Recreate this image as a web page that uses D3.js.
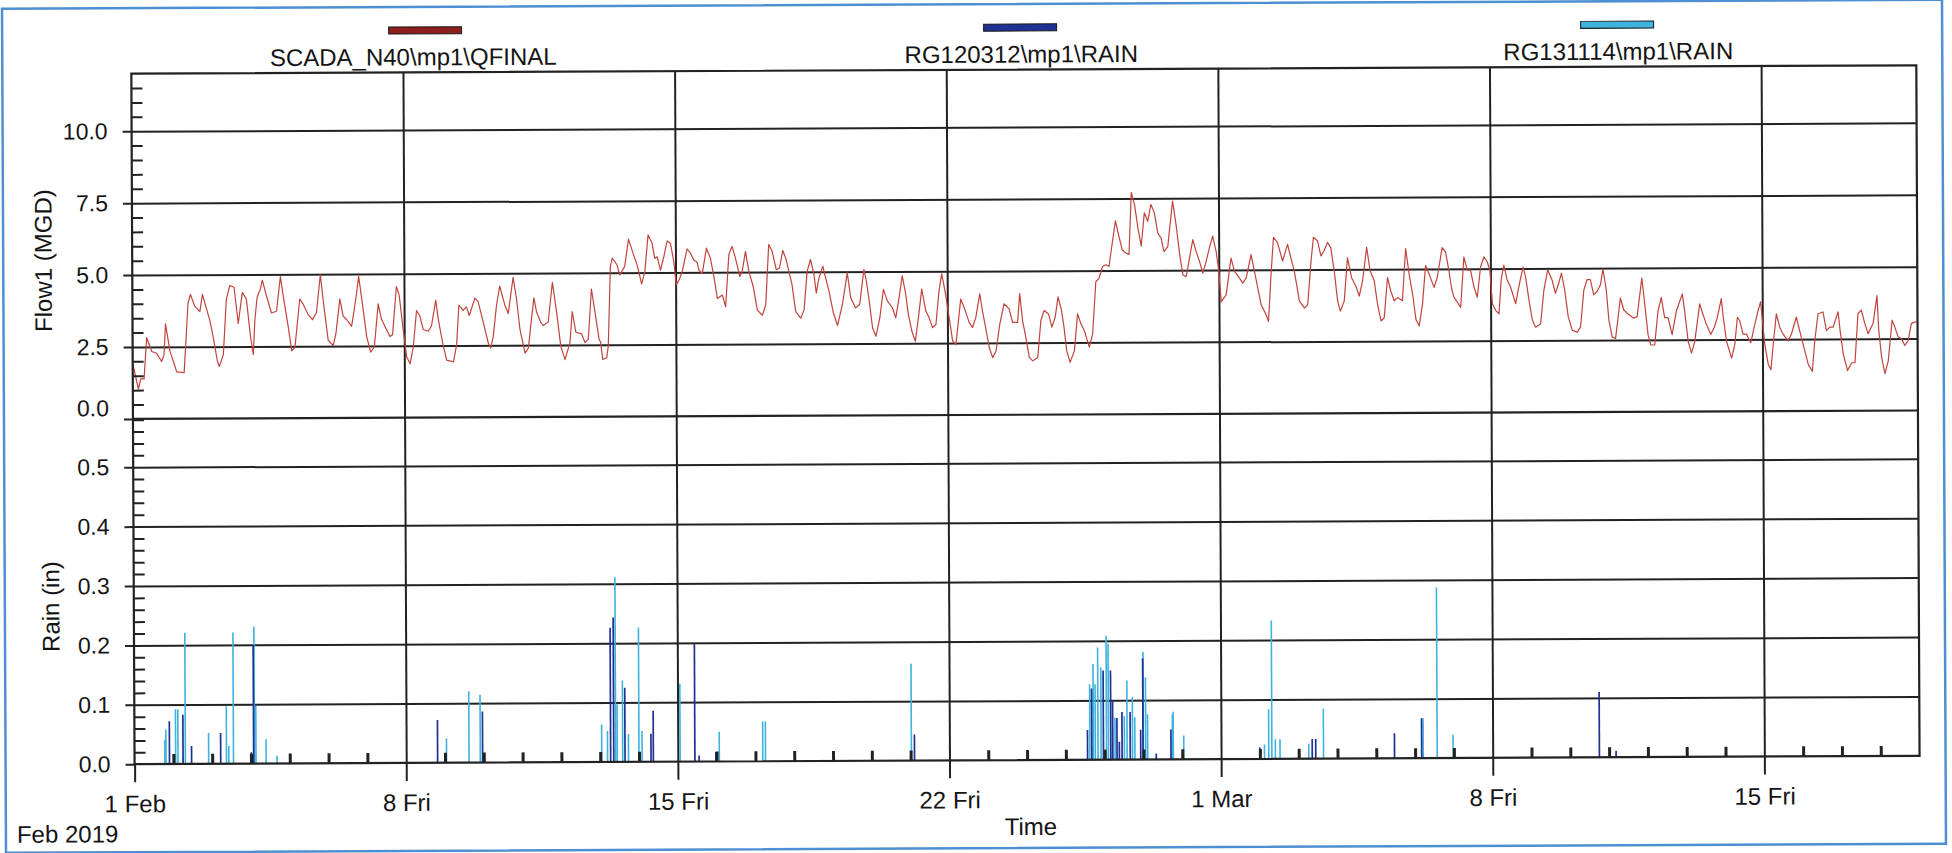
<!DOCTYPE html>
<html>
<head>
<meta charset="utf-8">
<script src="https://cdn.jsdelivr.net/npm/d3@7"></script>
<style>
  html, body { margin: 0; padding: 0; background: #ffffff; }
  svg { display: block; }
  text { font-family: "Liberation Sans", Arial, sans-serif; fill: #141414; }
</style>
</head>
<body>
<svg id="chart" width="1952" height="853"></svg>
<script>
// ---- series names and colours ----
const seriesNames = ["SCADA_N40\\mp1\\QFINAL", "RG120312\\mp1\\RAIN", "RG131114\\mp1\\RAIN"];
const seriesColors = ["#8e1d1d", "#1f3193", "#3db3de"];
const flowLineColor = "#c0443e";

// ---- axis ticks ----
const xTickDays = [0, 7, 14, 21, 28, 35, 42];
const xTickLabels = ["1 Feb", "8 Fri", "15 Fri", "22 Fri", "1 Mar", "8 Fri", "15 Fri"];
const flowTicks = [0, 2.5, 5, 7.5, 10];
const flowTickLabels = ["0.0", "2.5", "5.0", "7.5", "10.0"];
const rainTicks = [0, 0.1, 0.2, 0.3, 0.4, 0.5];
const rainTickLabels = ["0.0", "0.1", "0.2", "0.3", "0.4", "0.5"];

// ---- flow, [hours since 1 Feb 2019 00:00, MGD] ----
const flowSamples = [
[0,1.93],[3.5,1.03],[4.9,1.39],[7.0,1.39],[8.7,2.82],[11.8,2.34],[14.8,2.28],[17.9,1.99],[19.4,2.22],[20.4,3.30],
[23.1,2.34],[25.2,1.99],[27.2,1.63],[31.8,1.60],[34.4,4.02],[35.9,4.32],[38.6,3.90],[41.7,3.72],[43.3,4.32],[45.4,3.90],
[47.8,3.42],[49.9,2.82],[52.4,1.99],[53.6,1.81],[56.1,2.22],[58.1,4.14],[60.2,4.62],[62.9,4.56],[65.4,3.30],[68.0,4.38],
[70.5,4.14],[73.0,2.82],[74.6,2.22],[75.7,3.42],[77.1,4.20],[79.2,4.50],[80.4,4.80],[82.9,4.26],[86.0,3.66],[89.1,3.72],
[91.6,4.92],[93.6,4.14],[96.3,3.18],[98.4,2.34],[100.4,2.46],[103.5,4.14],[105.6,3.96],[108.7,3.60],[111.3,3.42],[113.8,3.66],
[116.3,4.98],[118.4,3.90],[121.0,2.70],[124.1,2.52],[125.8,2.94],[128.3,4.14],[130.3,3.54],[132.4,3.42],[135.5,3.18],[138.2,4.14],
[140.0,4.92],[142.1,4.02],[144.8,2.82],[147.2,2.28],[149.5,2.46],[152.0,3.96],[154.0,3.42],[156.1,3.18],[159.2,2.82],[160.8,2.88],
[163.3,4.56],[165.0,4.26],[167.4,3.06],[169.5,2.11],[171.6,1.87],[173.6,2.46],[175.7,3.72],[177.7,3.54],[179.8,3.06],[182.9,3.00],
[184.9,3.18],[187.6,4.08],[189.1,3.42],[191.8,2.58],[194.2,1.99],[198.4,1.93],[200.4,2.52],[201.9,3.90],[204.5,3.72],[206.6,3.84],
[208.3,3.54],[211.8,4.14],[213.8,4.02],[215.9,3.54],[220.0,2.58],[221.5,2.40],[223.1,2.82],[225.2,3.90],[227.2,4.56],[230.3,3.90],
[232.4,3.60],[235.5,4.86],[237.5,4.14],[239.6,3.06],[242.7,2.22],[244.8,2.40],[246.8,3.42],[248.3,4.14],[249.9,3.66],[252.4,3.30],
[254.0,3.18],[257.1,3.30],[259.8,4.68],[262.3,3.66],[264.8,2.46],[267.4,1.99],[270.5,2.58],[272.0,3.66],[274.2,2.94],[277.7,2.88],
[279.8,2.58],[281.9,2.70],[283.9,4.44],[286.0,3.66],[288.5,2.70],[289.5,2.58],[290.7,1.99],[293.2,2.05],[294.2,2.46],[295.7,5.22],
[296.9,5.51],[299.8,5.28],[301.5,4.92],[304.6,5.22],[307.0,6.17],[309.7,5.69],[312.2,5.28],
[313.3,5.02],[315.0,4.61],[317.0,5.02],[319.1,6.31],[321.6,6.02],[323.2,5.49],[324.7,5.55],[326.7,5.08],[328.8,5.55],[330.9,6.10],
[332.9,6.02],[335.0,5.37],[336.4,4.56],[338.1,4.73],[340.1,5.02],[343.2,5.82],[345.3,5.67],[347.3,5.43],[349.4,5.35],[350.4,5.08],
[352.5,4.96],[355.2,5.84],[357.7,5.47],[359.9,4.79],[361.8,4.09],[364.9,4.21],[366.9,3.80],[369.0,5.61],[371.0,5.90],[373.1,5.49],
[375.8,4.85],[377.2,5.02],[379.3,5.72],[381.4,5.02],[384.0,4.50],[386.5,3.68],[389.6,3.50],[391.7,3.86],[393.7,5.96],[395.8,5.72],
[398.3,5.08],[400.3,5.14],[402.4,5.75],[404.5,5.43],[406.1,5.02],[408.0,4.56],[410.2,3.62],[413.3,3.39],[415.4,3.68],[417.4,5.02],
[419.5,5.43],[421.6,4.91],[423.0,4.26],[424.7,4.79],[427.1,5.20],[428.8,4.79],[430.9,4.32],[433.3,3.62],[436.0,3.13],[439.1,3.86],
[442.2,4.96],[444.3,4.09],[447.3,3.74],[449.8,3.86],[452.5,5.08],[454.0,4.67],[456.0,3.86],[457.7,3.04],[459.8,2.75],[462.2,3.39],
[464.5,4.38],[467.0,3.97],[470.0,3.74],[472.1,3.39],[474.2,4.09],[476.2,4.85],[478.3,4.21],[479.9,3.50],[482.0,2.92],[484.1,2.57],
[486.1,3.39],[488.2,4.38],[490.7,3.62],[492.7,3.39],[494.8,3.04],[496.9,3.15],[498.9,4.32],[500.6,4.91],[502.6,4.32],[505.1,3.39],
[507.2,2.57],[509.2,2.45],[512.3,4.03],[514.4,3.74],[517.5,3.21],[519.5,3.04],[521.6,3.39],[524.1,4.21],[525.7,3.62],[528.0,2.92],
[529.8,2.34],[531.9,1.99],[534.0,2.22],[536.4,3.15],[539.1,3.86],[542.2,3.68],[544.3,3.21],[547.4,3.21],[548.8,4.21],[550.5,3.27],
[552.1,2.80],[554.6,1.99],[556.7,1.87],[559.8,1.99],[561.8,3.27],[563.9,3.62],[566.6,3.50],[568.6,3.04],[570.7,3.39],[572.5,4.09],
[574.6,3.62],[576.1,3.04],[577.7,2.22],[579.8,1.81],[582.5,2.22],[584.5,3.50],[586.6,3.15],[588.6,2.92],[591.7,2.34],[593.8,2.80],
[595.9,4.61],[597.9,4.73],[600.1,5.14],[602.0,5.20],[604.1,5.14],[606.2,5.96],[608.2,6.72],[610.3,6.19],[612.3,5.72],[614.4,5.61],
[616.5,5.55],[618.1,7.71],[620.2,7.24],[622.2,6.43],[624.1,5.84],
[626.1,7.0],[628.2,6.70],[630.2,7.29],[632.3,7.0],[634.4,6.29],[636.4,6.12],[638.1,5.65],[640.5,5.82],[643.6,7.40],[645.7,6.58],
[647.9,5.53],[649.8,4.83],[651.8,4.77],[653.9,5.41],[656.0,6.06],[658.0,5.65],[660.1,5.30],[662.1,4.89],[664.2,5.30],[666.2,5.76],
[668.3,6.18],[670.4,5.65],[672.0,4.95],[673.4,3.90],[676.5,4.13],[679.6,5.41],[681.7,4.95],[684.8,4.71],[686.8,4.54],[688.9,4.71],
[692.0,5.53],[694.0,4.95],[696.1,4.36],[698.1,3.78],[701.2,3.43],[702.6,3.20],[704.3,4.83],[705.9,6.12],[708.4,5.94],[711.5,5.30],
[714.6,5.88],[716.6,5.41],[718.7,4.95],[720.1,4.48],[721.8,3.90],[724.9,3.66],[726.9,3.78],[729.0,5.24],[730.6,6.12],[733.1,6.0],
[735.2,5.47],[737.2,5.65],[739.3,5.94],[741.3,5.76],[743.4,4.95],[745.4,3.90],[747.1,3.55],[749.5,3.90],[751.6,5.41],[754.1,4.71],
[756.7,4.42],[758.8,4.07],[760.9,4.60],[763.5,5.76],[765.6,4.95],[768.1,4.60],[770.1,3.78],[772.2,3.20],[774.2,3.31],[776.3,4.71],
[778.3,4.24],[780.4,3.90],[782.5,4.01],[785.5,3.90],[787.6,5.71],[789.7,4.83],[792.1,4.01],[793.8,3.25],[795.8,3.02],[797.9,3.78],
[799.9,5.12],[802.0,4.83],[805.1,4.36],[807.1,4.71],[810.2,5.74],[812.3,5.59],[814.3,4.95],[816.0,4.30],[817.4,4.01],[819.5,3.84],
[821.5,3.66],[823.6,5.41],[825.7,4.95],[827.7,4.95],[829.8,4.36],[831.8,4.01],[833.9,5.06],[836.0,5.41],[838.0,5.24],[839.7,4.95],
[841.1,3.78],[843.1,3.55],[845.2,3.43],[846.6,4.60],[848.3,5.12],[850.3,4.60],[852.4,4.36],[855.5,3.78],[857.5,4.36],[860.2,5.06],
[861.7,4.71],[864.1,3.78],[865.8,3.20],[867.8,2.96],[870.9,3.08],[873.0,4.24],[875.4,4.95],[878.1,4.60],[880.1,4.13],[882.2,4.48],
[883.9,4.83],[885.9,4.24],[888.0,3.31],[890.5,2.84],[893.5,2.78],[895.6,2.96],[897.7,4.24],[899.7,4.60],[901.8,4.60],[903.8,4.07],
[905.9,4.19],[908.0,4.42],[909.6,4.97],[911.6,4.24],[913.1,3.20],[915.1,2.61],[917.2,2.55],[920.3,3.96],[922.3,3.55],[924.4,3.43],
[928.5,3.25],[930.6,3.31],[933.6,4.65],[935.7,3.55],
[937.3,2.68],[939.0,2.32],[941.4,2.32],[943.5,3.50],[945.6,3.97],[947.6,3.27],[949.7,3.27],[952.2,2.68],[954.9,3.50],[958.6,4.09],
[960.0,3.50],[962.1,2.44],[964.1,2.03],[966.2,2.44],[969.3,3.74],[971.3,3.38],[973.4,3.03],[976.1,2.68],[978.2,2.91],[980.2,3.27],
[982.7,3.92],[983.9,3.27],[985.8,2.44],[988.9,1.85],[990.9,2.32],[992.6,3.27],[994.0,3.15],[996.1,2.68],[998.2,2.68],[1000.8,2.38],
[1002.9,2.91],[1005.4,3.50],[1007.0,3.80],[1009.5,2.32],[1011.6,1.62],[1013.2,1.44],[1014.7,2.32],[1016.7,3.38],[1018.8,2.91],[1020.8,2.68],
[1023.9,2.44],[1026.0,2.68],[1029.1,3.27],[1031.1,2.79],[1033.2,2.32],[1036.3,1.62],[1038.8,1.38],[1040.4,2.44],[1042.5,3.38],[1045.6,3.44],
[1047.6,2.79],[1049.7,2.91],[1051.8,2.91],[1054.9,3.44],[1056.1,2.79],[1058.0,1.97],[1060.6,1.40],[1063.1,1.67],[1065.2,1.67],[1067.2,3.38],
[1069.3,3.50],[1071.4,3.03],[1073.4,2.68],[1076.5,3.03],[1079.0,4.00],[1080.0,2.79],[1081.7,1.85],[1083.7,1.29],[1085.8,1.73],[1088.3,3.15],
[1089.9,2.91],[1092.0,2.56],[1094.0,2.50],[1096.1,2.26],[1098.2,2.44],[1100.2,3.03],[1103.3,3.09]
];

// ---- rain gauge RG120312, [days since 1 Feb 2019, inches] ----
const rg120312 = [
[0.90,0.072],[1.25,0.083],[1.47,0.030],[2.22,0.052],[3.01,0.019],[3.07,0.200],[7.81,0.072],[8.97,0.086],
[12.27,0.226],[12.35,0.243],[12.64,0.125],[13.31,0.047],[13.37,0.086],[14.44,0.198],[14.55,0.010],[14.98,0.016],
[20.10,0.044],[24.56,0.050],[24.67,0.120],[24.97,0.150],[25.16,0.150],[25.21,0.100],[25.32,0.070],[25.38,0.030],
[25.45,0.080],[25.66,0.080],[25.93,0.050],[25.99,0.170],[26.33,0.010],[26.71,0.050],[29.00,0.019],[30.35,0.033],
[30.44,0.033],[32.47,0.042],[33.17,0.067],[37.75,0.110],[38.02,0.014],[38.18,0.011]
];

// ---- rain gauge RG131114, [days since 1 Feb 2019, inches] ----
const rg131114 = [
[0.78,0.041],[0.81,0.058],[1.06,0.092],[1.12,0.092],[1.31,0.221],[1.91,0.052],[2.37,0.097],[2.43,0.030],
[2.55,0.221],[3.09,0.231],[3.13,0.097],[3.39,0.041],[3.67,0.013],[8.04,0.041],[8.62,0.120],[8.91,0.114],
[12.04,0.063],[12.19,0.052],[12.40,0.311],[12.44,0.097],[12.58,0.137],[12.73,0.047],[13.00,0.226],[13.08,0.052],
[14.06,0.131],[15.07,0.050],[16.19,0.067],[16.26,0.067],[20.02,0.163],[24.62,0.127],[24.71,0.161],[24.76,0.127],
[24.83,0.189],[24.91,0.155],[25.05,0.209],[25.10,0.195],[25.27,0.071],[25.51,0.073],[25.58,0.133],[25.72,0.105],
[25.78,0.071],[26.00,0.181],[26.06,0.138],[26.11,0.076],[26.75,0.076],[26.77,0.080],[27.04,0.040],[29.12,0.024],
[29.23,0.084],[29.31,0.233],[29.40,0.033],[29.52,0.033],[30.26,0.025],[30.64,0.084],[33.21,0.067],[33.57,0.287],
[33.98,0.039]
];

// ---- layout ----
const W = 1952, H = 853;
const L = 133, R = 1918;          // plot left / right
const T = 69.5;                   // top of flow panel
const MID = 414.7;                // flow 0 / top of rain panel
const B = 760;                    // rain 0 / time axis
const RAIN_HALF = 463;            // y of 0.5 in
const FONT = 24;
const INK = "#222";

const DAY = 86400000, HOUR = 3600000;
const t0 = Date.UTC(2019, 1, 1), t1 = Date.UTC(2019, 2, 19);

const x = d3.scaleUtc().domain([t0, t1]).range([L, R]);
const yFlow = d3.scaleLinear().domain([0, 12]).range([MID, T]);
const rainTop = 0.5 * (B - MID) / (B - RAIN_HALF);
const yRain = d3.scaleLinear().domain([0, rainTop]).range([B, MID]);

const svg = d3.select("#chart");
svg.append("rect").attr("width", W).attr("height", H).attr("fill", "#fff");

// whole sheet sits very slightly tilted
const g = svg.append("g").attr("transform", "rotate(-0.27 1025 426)");

// outer window border
g.append("rect").attr("x", 4).attr("y", 4).attr("width", 1940).attr("height", 844)
  .attr("fill", "none").attr("stroke", "#4d8fd2").attr("stroke-width", 2.5);

function styleAxis(sel, width) {
  sel.select(".domain").remove();
  sel.selectAll(".tick line").attr("stroke", INK).attr("stroke-width", width);
}

// horizontal grid lines (flow + rain)
const gridFlow = g.append("g").attr("transform", `translate(${L},0)`)
  .call(d3.axisLeft(yFlow).tickValues(flowTicks.filter(v => v > 0)).tickSize(-(R - L)).tickFormat(""));
styleAxis(gridFlow, 2);
const gridRain = g.append("g").attr("transform", `translate(${L},0)`)
  .call(d3.axisLeft(yRain).tickValues(rainTicks.filter(v => v > 0)).tickSize(-(R - L)).tickFormat(""));
styleAxis(gridRain, 2);

// vertical week grid lines
const weekDates = xTickDays.map(d => new Date(t0 + d * DAY));
const gridX = g.append("g").attr("transform", `translate(0,${B})`)
  .call(d3.axisBottom(x).tickValues(weekDates.slice(1)).tickSize(-(B - T)).tickFormat(""));
styleAxis(gridX, 2);

// rain impulses
function rainStems(data, color, width, cls) {
  g.append("g").attr("class", cls).selectAll("line").data(data).join("line")
    .attr("x1", d => x(new Date(t0 + d[0] * DAY)))
    .attr("x2", d => x(new Date(t0 + d[0] * DAY)))
    .attr("y1", yRain(0))
    .attr("y2", d => yRain(d[1]))
    .attr("stroke", color).attr("stroke-width", width);
}
rainStems(rg131114, seriesColors[2], 1.6, "rg131114");
rainStems(rg120312, seriesColors[1], 1.7, "rg120312");

// flow trace
const flowLine = d3.line()
  .x(d => x(new Date(t0 + d[0] * HOUR)))
  .y(d => yFlow(d[1]));
g.append("path").datum(flowSamples)
  .attr("d", flowLine).attr("fill", "none")
  .attr("stroke", flowLineColor).attr("stroke-width", 1.2).attr("stroke-linejoin", "round");

// daily ticks along the time axis
const dayDates = d3.range(1, 46).filter(d => d % 7 !== 0).map(d => new Date(t0 + d * DAY));
const dayTicks = g.append("g").attr("transform", `translate(0,${B})`)
  .call(d3.axisTop(x).tickValues(dayDates).tickSize(10).tickFormat(""));
styleAxis(dayTicks, 3);

// plot frame and panel divider
const frame = g.append("g").attr("stroke", INK).attr("stroke-width", 2.2).attr("fill", "none");
frame.append("rect").attr("x", L).attr("y", T).attr("width", R - L).attr("height", B - T);
frame.append("line").attr("x1", L).attr("x2", R).attr("y1", MID).attr("y2", MID);

// time axis with week labels
const xAxis = g.append("g").attr("transform", `translate(0,${B})`)
  .call(d3.axisBottom(x).tickValues(weekDates).tickSize(18).tickPadding(13)
    .tickFormat((d, i) => xTickLabels[i]));
styleAxis(xAxis, 2);
xAxis.selectAll("text").attr("font-size", FONT).attr("fill", "#141414")
  .style("font-family", "'Liberation Sans', Arial, sans-serif");

// flow axis
const flowAxis = g.append("g").attr("transform", `translate(${L},0)`)
  .call(d3.axisLeft(yFlow).tickValues(flowTicks).tickSize(9).tickPadding(15)
    .tickFormat((d, i) => flowTickLabels[i]));
styleAxis(flowAxis, 2);
flowAxis.selectAll("text").attr("font-size", 23).attr("fill", "#141414")
  .style("font-family", "'Liberation Sans', Arial, sans-serif")
  .attr("dy", (d) => d === 0 ? "-0.15em" : "0.32em");

const flowMinor = d3.range(1, 24).filter(i => i % 5 !== 0).map(i => i * 0.5);
const flowMinorAxis = g.append("g").attr("transform", `translate(${L},0)`)
  .call(d3.axisRight(yFlow).tickValues(flowMinor).tickSize(11).tickFormat(""));
styleAxis(flowMinorAxis, 2);

// rain axis
const rainAxis = g.append("g").attr("transform", `translate(${L},0)`)
  .call(d3.axisLeft(yRain).tickValues(rainTicks).tickSize(9).tickPadding(15)
    .tickFormat((d, i) => rainTickLabels[i]));
styleAxis(rainAxis, 2);
rainAxis.selectAll("text").attr("font-size", 23).attr("fill", "#141414")
  .style("font-family", "'Liberation Sans', Arial, sans-serif");

const rainMinor = d3.range(1, 30).filter(i => i % 5 !== 0).map(i => i * 0.02);
const rainMinorAxis = g.append("g").attr("transform", `translate(${L},0)`)
  .call(d3.axisRight(yRain).tickValues(rainMinor).tickSize(11).tickFormat(""));
styleAxis(rainMinorAxis, 2);

// axis titles
g.append("text").attr("transform", "translate(44,256) rotate(-90)")
  .attr("text-anchor", "middle").attr("dy", "0.35em").attr("font-size", FONT).text("Flow1 (MGD)");
g.append("text").attr("transform", "translate(50,602) rotate(-90)")
  .attr("text-anchor", "middle").attr("dy", "0.35em").attr("font-size", FONT).text("Rain (in)");
g.append("text").attr("x", 1029).attr("y", 835).attr("text-anchor", "middle")
  .attr("font-size", FONT).text("Time");
g.append("text").attr("x", 15).attr("y", 838).attr("font-size", FONT).text("Feb 2019");

// legend
const legendSwatchX = [427, 1022, 1619];
const legendLabelX = [415, 1023, 1620];
seriesNames.forEach((name, i) => {
  g.append("rect").attr("x", legendSwatchX[i] - 36.5).attr("y", 24).attr("width", 73).attr("height", 7)
    .attr("fill", seriesColors[i]).attr("stroke", "#1a1a1a").attr("stroke-width", 1);
  g.append("text").attr("x", legendLabelX[i]).attr("y", 62.5).attr("text-anchor", "middle")
    .attr("font-size", FONT).text(name);
});
</script>
</body>
</html>
